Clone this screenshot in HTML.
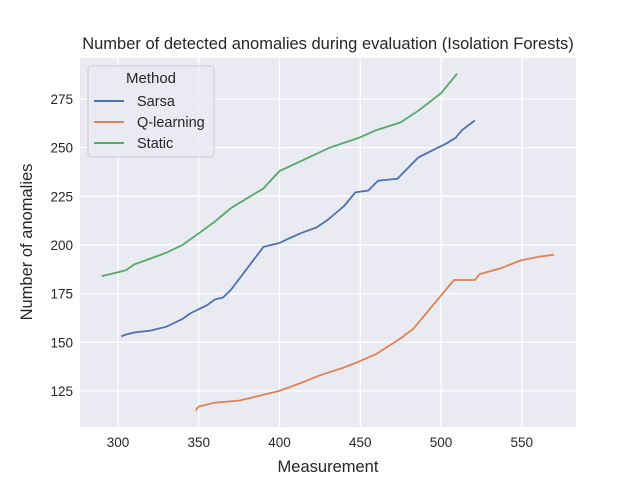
<!DOCTYPE html>
<html><head><meta charset="utf-8"><style>
body{margin:0;background:#fff;font-family:"Liberation Sans",sans-serif}
svg text{font-family:"Liberation Sans","DejaVu Sans",sans-serif;fill:#262626}
</style></head><body>
<svg id="chart" width="640" height="480">
<rect x="80" y="58" width="496" height="369" fill="#eaeaf2"/>
<g id="grid"></g><g id="ticks"></g><g id="series"></g>
<text x="328" y="49" text-anchor="middle" font-size="16.5">Number of detected anomalies during evaluation (Isolation Forests)</text>
<text x="328" y="472" text-anchor="middle" font-size="16.5">Measurement</text>
<text transform="translate(32,242) rotate(-90)" text-anchor="middle" font-size="16.5">Number of anomalies</text>
<g>
<rect x="88" y="66" width="126" height="91" rx="3" fill="#eaeaf2" fill-opacity="0.8" stroke="#cccccc"/>
<text x="151" y="83" text-anchor="middle" font-size="15">Method</text>
<line x1="94" y1="101" x2="124" y2="101" stroke="#4c72b0" stroke-width="2"/>
<text x="137" y="106" font-size="14.5">Sarsa</text>
<line x1="94" y1="122" x2="124" y2="122" stroke="#dd8452" stroke-width="2"/>
<text x="137" y="127" font-size="14.5">Q-learning</text>
<line x1="94" y1="143" x2="124" y2="143" stroke="#55a868" stroke-width="2"/>
<text x="137" y="148" font-size="14.5">Static</text>
</g>
</svg>
<script>
const xTicks=[300,350,400,450,500,550];
const yTicks=[125,150,175,200,225,250,275];
const sarsaX=[302,305,310,320,330,340,345,350,355,360,365,370,390,395,400,405,413,423,430,440,447,455,461,473,486,498,503,509,513,521];
const sarsaY=[153,154,155,156,158,162,165,167,169,172,173,177,199,200,201,203,206,209,213,220,227,228,233,234,245,250,252,255,259,264];
const qX=[348,350,360,375,390,400,413,425,440,449,460,475,483,508,521,524,537,549,561,570];
const qY=[115,117,119,120,123,125,129,133,137,140,144,152,157,182,182,185,188,192,194,195];
const stX=[290,300,305,310,320,330,340,350,360,370,380,390,400,413,431,449,460,475,486,500,510];
const stY=[184,186,187,190,193,196,200,206,212,219,224,229,238,243,250,255,259,263,269,278,288];
const NS='http://www.w3.org/2000/svg';
function xs(v){return 118+(v-300)*1.615;}
function ys(v){return 99+(275-v)*1.946;}
const grid=document.getElementById('grid'),ticks=document.getElementById('ticks'),ser=document.getElementById('series');
xTicks.forEach(t=>{
 const l=document.createElementNS(NS,'line');
 l.setAttribute('x1',xs(t));l.setAttribute('x2',xs(t));l.setAttribute('y1',58);l.setAttribute('y2',427);
 l.setAttribute('stroke','#fff');l.setAttribute('stroke-width','1.3');
 
 
 grid.appendChild(l);
 const tx=document.createElementNS(NS,'text');
 tx.setAttribute('x',xs(t));tx.setAttribute('y',447);tx.setAttribute('text-anchor','middle');tx.setAttribute('font-size','13.5');
 tx.textContent=t;
 
 
 ticks.appendChild(tx);
});
yTicks.forEach(t=>{
 const l=document.createElementNS(NS,'line');
 l.setAttribute('x1',80);l.setAttribute('x2',576);l.setAttribute('y1',ys(t));l.setAttribute('y2',ys(t));
 l.setAttribute('stroke','#fff');l.setAttribute('stroke-width','1.3');
 
 
 grid.appendChild(l);
 const tx=document.createElementNS(NS,'text');
 tx.setAttribute('x',73);tx.setAttribute('y',ys(t)+5);tx.setAttribute('text-anchor','end');tx.setAttribute('font-size','13.5');
 tx.textContent=t;
 
 
 ticks.appendChild(tx);
});
function draw(X,Y,color,name){
 const p=document.createElementNS(NS,'polyline');
 p.setAttribute('points',X.map((x,i)=>xs(x).toFixed(1)+','+ys(Y[i]).toFixed(1)).join(' '));
 p.setAttribute('fill','none');p.setAttribute('stroke',color);p.setAttribute('stroke-width','1.8');
 
 
 ser.appendChild(p);
}
draw(sarsaX,sarsaY,'#4c72b0','sarsa-line');
draw(qX,qY,'#dd8452','q-learning-line');
draw(stX,stY,'#55a868','static-line');
</script>
</body></html>
